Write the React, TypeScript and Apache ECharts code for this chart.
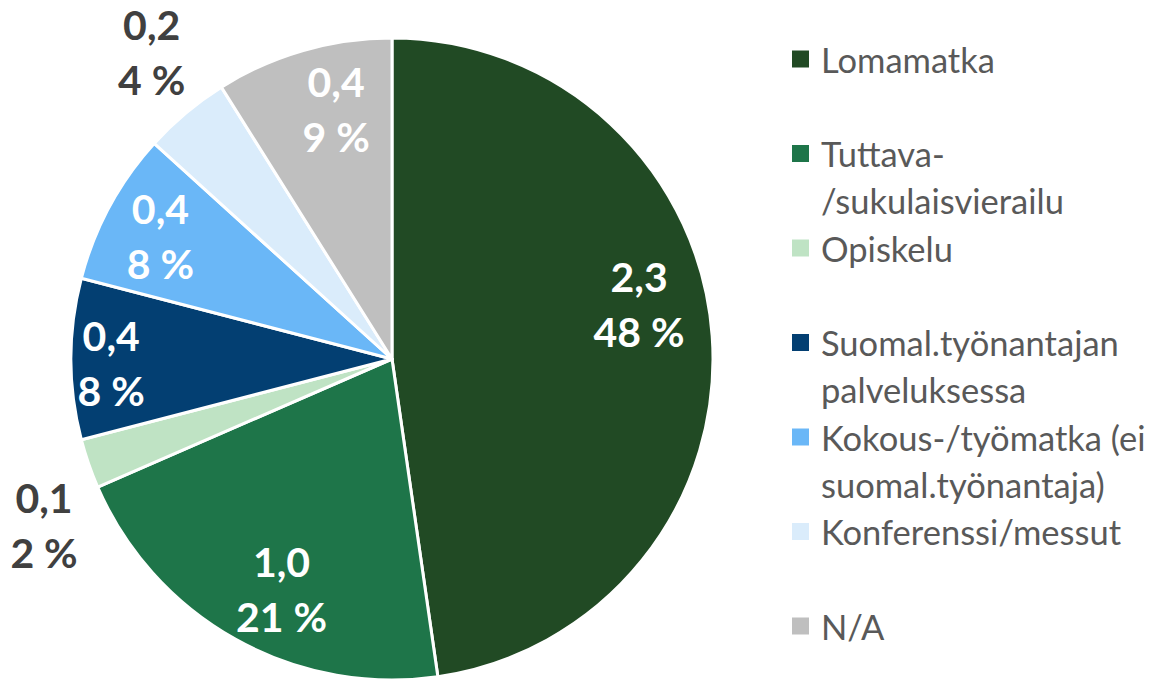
import React, { useEffect, useRef } from "react";
import * as echarts from "echarts";

const categories = [
  "Lomamatka",
  "Tuttava-/sukulaisvierailu",
  "Opiskelu",
  "Suomal.työnantajan palveluksessa",
  "Kokous-/työmatka (ei suomal.työnantaja)",
  "Konferenssi/messut",
  "N/A",
];
const legendLines = [
  ["Lomamatka"],
  ["Tuttava-", "/sukulaisvierailu"],
  ["Opiskelu"],
  ["Suomal.työnantajan", "palveluksessa"],
  ["Kokous-/työmatka (ei", "suomal.työnantaja)"],
  ["Konferenssi/messut"],
  ["N/A"],
];
const values = [2.3, 1.0, 0.12, 0.39, 0.37, 0.21, 0.43];
const colors = ["#214a24", "#1e7549", "#bfe3c4", "#033f72", "#6ab7f7", "#daecfb", "#bfbfbf"];
const outsideLabel = [false, false, true, false, false, true, false];

const FONT = "Lato";

export default function App() {
  const ref = useRef<HTMLDivElement>(null);
  useEffect(() => {
    if (!ref.current) return;
    const chart = echarts.init(ref.current, undefined, { renderer: "svg" });
    const total = values.reduce((a, b) => a + b, 0);
    const fmt = (p: any) =>
      `${Number(p.value).toFixed(1).replace(".", ",")}\n${Math.round((p.value / total) * 100)} %`;
    const cx = 392;
    const cy = 359;
    const R = 321;
    // label nudges mimicking Excel's best-fit placement
    const labelNudge: number[][] = [
      [-12, -36],
      [16, 3],
      [19, 39],
      [-21, 4],
      [-3, 0],
      [9, -9],
      [16, 0],
    ];

    const baseData = categories.map((name, i) => ({
      name,
      value: values[i],
      itemStyle: { color: colors[i] },
    }));

    const labelData = (outside: boolean) =>
      categories.map((name, i) => ({
        name,
        value: values[i],
        label: { show: outsideLabel[i] === outside, offset: labelNudge[i] },
      }));

    const labelStyle = (color: string, align: string) => ({
      position: "inside",
      formatter: fmt,
      color,
      align,
      fontFamily: FONT,
      fontWeight: "bold",
      fontSize: 41,
      lineHeight: 55,
      textBorderWidth: 0,
    });

    const graphic: any[] = [];
    const legendX = 792;
    const sq = 17;
    const startY = 59;
    const step = 94.5;
    legendLines.forEach((lines, i) => {
      const y = startY + i * step;
      graphic.push({
        type: "rect",
        shape: { x: legendX, y: y - sq / 2, width: sq, height: sq },
        style: { fill: colors[i] },
      });
      lines.forEach((line, j) => {
        graphic.push({
          type: "text",
          x: 821,
          y: y + j * 47,
          style: {
            text: line,
            fill: "#595959",
            font: `34.5px ${FONT}`,
            verticalAlign: "middle",
            align: "left",
          },
        });
      });
    });

    chart.setOption({
      animation: false,
      backgroundColor: "#ffffff",
      graphic,
      series: [
        {
          type: "pie",
          center: [cx, cy],
          radius: [0, R],
          startAngle: 90,
          clockwise: true,
          silent: true,
          label: { show: false },
          labelLine: { show: false },
          itemStyle: { borderColor: "#ffffff", borderWidth: 3 },
          data: baseData,
        },
        {
          type: "pie",
          center: [cx, cy],
          radius: [R * 0.6, R],
          startAngle: 90,
          clockwise: true,
          silent: true,
          itemStyle: { color: "rgba(0,0,0,0)", borderWidth: 0 },
          label: labelStyle("#ffffff", "center"),
          labelLine: { show: false },
          data: labelData(false),
        },
        {
          type: "pie",
          center: [cx, cy],
          radius: [R * 1.0, R * 1.4],
          startAngle: 90,
          clockwise: true,
          silent: true,
          itemStyle: { color: "rgba(0,0,0,0)", borderWidth: 0 },
          label: labelStyle("#404040", "right"),
          labelLine: { show: false },
          data: labelData(true),
        },
      ],
    });
    return () => chart.dispose();
  }, []);
  return (
    <div
      ref={ref}
      style={{ position: "absolute", left: 0, top: 0, width: 1152, height: 679 }}
    />
  );
}
